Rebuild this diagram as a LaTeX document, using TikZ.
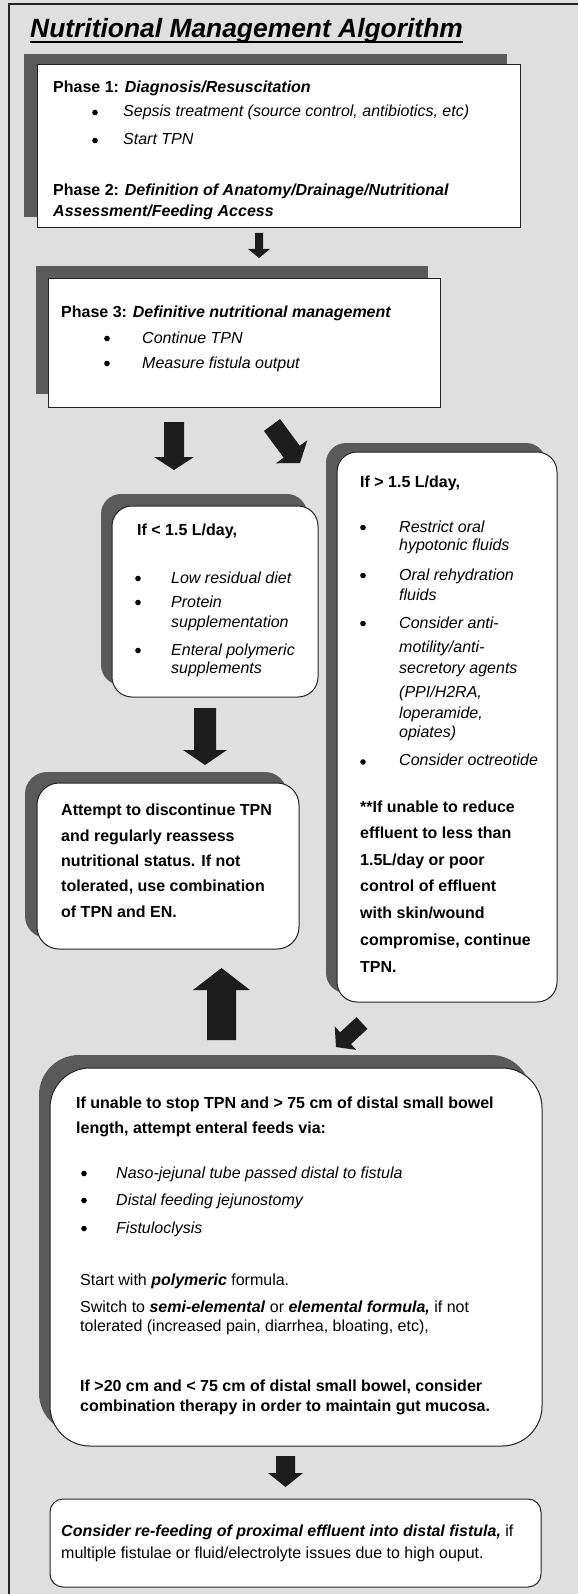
\documentclass[tikz,border=0pt]{standalone}
\usepackage{fontspec}
\setmainfont{Liberation Sans}
\usetikzlibrary{calc}
\definecolor{bgc}{HTML}{DFDFDF}
\definecolor{shc}{HTML}{5A5A5A}
\definecolor{arc}{HTML}{1C1C1C}
\definecolor{frc}{HTML}{232323}
\newcommand\bodyfont{\fontsize{16}{19}\selectfont}
\newcommand\titlefont{\fontsize{26.4}{31}\selectfont\bfseries\itshape}
\newcommand\bi[1]{\textbf{\textit{#1}}}
\newcommand\blockarrow[5]{%
  \fill[arrowfill] let \p1=($(#2)-(#1)$), \n1={atan2(\y1,\x1)}, \n2={veclen(\x1,\y1)} in
    [shift={(#1)}, rotate=\n1]
    (0pt,#3pt) -- ({\n2-#5pt},#3pt) -- ({\n2-#5pt},#4pt) -- ({\n2+0pt},0pt)
    -- ({\n2-#5pt},-#4pt) -- ({\n2-#5pt},-#3pt) -- (0pt,-#3pt) -- cycle;}
\begin{document}
\begin{tikzpicture}[x=1pt,y=-1pt,
  txt/.style={anchor=base west, inner sep=0pt, font=\bodyfont},
  bul/.style={circle, fill=black, inner sep=0pt, minimum size=5.6pt},
  shadowbox/.style={anchor=north west, fill=shc, inner sep=0pt, outer sep=0pt},
  whitebox/.style={anchor=north west, fill=white, draw=frc, line width=1pt, inner sep=0pt, outer sep=0pt},
  arrowfill/.style={fill=arc}]
\fill[bgc] (0,0) rectangle (578,1594);
\useasboundingbox (0,0) rectangle (578,1594);
\draw[frc, line width=2pt] (8.5,1594) -- (8.5,4.5) -- (578,4.5);

% title
\node[anchor=base west, inner sep=0pt, font=\titlefont] (title) at (30,38) {Nutritional Management Algorithm};
\draw[black, line width=1.9pt] ([yshift=-4pt]title.base west) -- ([yshift=-4pt]title.base east);

% Phase 1/2 box
\node[shadowbox, minimum width=483pt, minimum height=163pt] (p1s) at (24,54) {};
\node[whitebox, minimum width=483pt, minimum height=163pt] (p1) at (37,65) {};
\node[txt] (p1a) at (53,93) {\textbf{Phase 1: \textit{Diagnosis/Resuscitation}}};
\node[bul] (p1b1) at (95,112.5) {};
\node[txt] (p1b) at (123,117) {\textit{Sepsis treatment (source control, antibiotics, etc)}};
\node[bul] (p1c1) at (95,140.5) {};
\node[txt] (p1c) at (123,145) {\textit{Start TPN}};
\node[txt] (p2a) at (53,196) {\textbf{Phase 2: \textit{Definition of Anatomy/Drainage/Nutritional}}};
\node[txt] (p2b) at (53,217) {\bi{Assessment/Feeding Access}};

% Phase 3 box
\node[shadowbox, minimum width=392pt, minimum height=128pt] (p3s) at (36,266) {};
\node[whitebox, minimum width=392pt, minimum height=128pt] (p3) at (48,279) {};
\node[txt] (p3a) at (61,317) {\textbf{Phase 3: \textit{Definitive nutritional management}}};
\node[bul] (p3b1) at (107,338.5) {};
\node[txt] (p3b) at (142,343) {\textit{Continue TPN}};
\node[bul] (p3c1) at (107,363.5) {};
\node[txt] (p3c) at (142,368) {\textit{Measure fistula output}};

% Left box (< 1.5)
\node[shadowbox, rounded corners=20pt, minimum width=206pt, minimum height=191pt] (ls) at (101,494) {};
\node[whitebox, rounded corners=20pt, minimum width=206pt, minimum height=191pt] (lb) at (112,506) {};
\node[txt] (la) at (137,535) {\textbf{If < 1.5 L/day,}};
\node[bul] (lb1) at (138,578.5) {};
\node[txt] (lbt) at (171,583) {\textit{Low residual diet}};
\node[bul] (lc1) at (138,602.5) {};
\node[txt] (lct) at (171,607) {\textit{Protein}};
\node[txt] (lct2) at (171,627) {\textit{supplementation}};
\node[bul] (ld1) at (138,650.5) {};
\node[txt] (ldt) at (171,655) {\textit{Enteral polymeric}};
\node[txt] (ldt2) at (171,673) {\textit{supplements}};

% Right box (> 1.5)
\node[shadowbox, rounded corners=20pt, minimum width=220pt, minimum height=550pt] (rs) at (326,443) {};
\node[whitebox, rounded corners=20pt, minimum width=220pt, minimum height=550pt] (rb) at (337,452) {};
\node[txt] (ra) at (360,487) {\textbf{If > 1.5 L/day,}};
\node[bul] (rb1) at (363,527.5) {};
\node[txt] (rbt) at (399,532) {\textit{Restrict oral}};
\node[txt] (rbt2) at (399,550) {\textit{hypotonic fluids}};
\node[bul] (rc1) at (363,575.5) {};
\node[txt] (rct) at (399,580) {\textit{Oral rehydration}};
\node[txt] (rct2) at (399,600) {\textit{fluids}};
\node[bul] (rd1) at (363,623.5) {};
\node[txt] (rdt) at (399,628) {\textit{Consider anti-}};
\node[txt] (rdt2) at (399,652) {\textit{motility/anti-}};
\node[txt] (rdt3) at (399,673) {\textit{secretory agents}};
\node[txt] (rdt4) at (399,697) {\textit{(PPI/H2RA,}};
\node[txt] (rdt5) at (399,718) {\textit{loperamide,}};
\node[txt] (rdt6) at (399,737) {\textit{opiates)}};
\node[bul] (re1) at (363,762) {};
\node[txt] (ret) at (399,765) {\textit{Consider octreotide}};
\node[txt] (rf1) at (360,812) {\textbf{**If unable to reduce}};
\node[txt] (rf2) at (360,838) {\textbf{effluent to less than}};
\node[txt] (rf3) at (360,865) {\textbf{1.5L/day or poor}};
\node[txt] (rf4) at (360,891) {\textbf{control of effluent}};
\node[txt] (rf5) at (360,918) {\textbf{with skin/wound}};
\node[txt] (rf6) at (360,945) {\textbf{compromise, continue}};
\node[txt] (rf7) at (360,972) {\textbf{TPN.}};

% Attempt box
\node[shadowbox, rounded corners=22pt, minimum width=262pt, minimum height=166pt] (as) at (25,772) {};
\node[whitebox, rounded corners=22pt, minimum width=262pt, minimum height=166pt] (ab) at (37,783) {};
\node[txt] (aa1) at (61,815) {\textbf{Attempt to discontinue TPN}};
\node[txt] (aa2) at (61,841) {\textbf{and regularly reassess}};
\node[txt] (aa3) at (61,866) {\textbf{nutritional status. If not}};
\node[txt] (aa4) at (61,891) {\textbf{tolerated, use combination}};
\node[txt] (aa5) at (61,917) {\textbf{of TPN and EN.}};

% Big box
\node[shadowbox, rounded corners=40pt, minimum width=492pt, minimum height=378pt] (bs) at (39,1055) {};
\node[whitebox, rounded corners=40pt, minimum width=492pt, minimum height=378pt] (bb) at (50,1068) {};
\node[txt] (ba1) at (76,1108) {\textbf{If unable to stop TPN and > 75 cm of distal small bowel}};
\node[txt] (ba2) at (76,1133) {\textbf{length, attempt enteral feeds via:}};
\node[bul] (bc1) at (84,1173.5) {};
\node[txt] (bct1) at (116,1178) {\textit{Naso-jejunal tube passed distal to fistula}};
\node[bul] (bc2) at (84,1200.5) {};
\node[txt] (bct2) at (116,1205) {\textit{Distal feeding jejunostomy}};
\node[bul] (bc3) at (84,1228.5) {};
\node[txt] (bct3) at (116,1233) {\textit{Fistuloclysis}};
\node[txt] (bd1) at (80,1285) {Start with \bi{polymeric} formula.};
\node[txt] (bd2) at (80,1312) {Switch to \bi{semi-elemental} or \bi{elemental formula,} if not};
\node[txt] (bd3) at (80,1331) {tolerated (increased pain, diarrhea, bloating, etc),};
\node[txt] (be1) at (80,1391) {\textbf{If >20 cm and < 75 cm of distal small bowel, consider}};
\node[txt] (be2) at (80,1411) {\textbf{combination therapy in order to maintain gut mucosa.}};

% Bottom box
\node[whitebox, rounded corners=13pt, minimum width=491pt, minimum height=88pt] (fb) at (50,1499) {};
\node[txt] (f1) at (61,1536) {\bi{Consider re-feeding of proximal effluent into distal fistula,} if};
\node[txt] (f2) at (61,1558) {multiple fistulae or fluid/electrolyte issues due to high ouput.};

% arrows
\coordinate (a1s) at (259,233); \coordinate (a1e) at (259,258);
\coordinate (a2s) at (174,422); \coordinate (a2e) at (174,470);
\coordinate (a3s) at (272,425); \coordinate (a3e) at (300,463);
\coordinate (a4s) at (205,708); \coordinate (a4e) at (205,765);
\coordinate (a5s) at (221.5,1040); \coordinate (a5e) at (221.5,968);
\coordinate (a6s) at (362,1023); \coordinate (a6e) at (336,1047);
\coordinate (a7s) at (285.5,1456); \coordinate (a7e) at (285.5,1487);
\blockarrow{a1s}{a1e}{4}{11}{9}
\blockarrow{a2s}{a2e}{10}{20}{13}
\blockarrow{a3s}{a3e}{10}{19.5}{14}
\blockarrow{a4s}{a4e}{11}{22}{15}
\blockarrow{a5s}{a5e}{14.5}{28.5}{22}
\blockarrow{a6s}{a6e}{8}{16}{13}
\blockarrow{a7s}{a7e}{9.5}{17.5}{14}
\end{tikzpicture}
\end{document}
